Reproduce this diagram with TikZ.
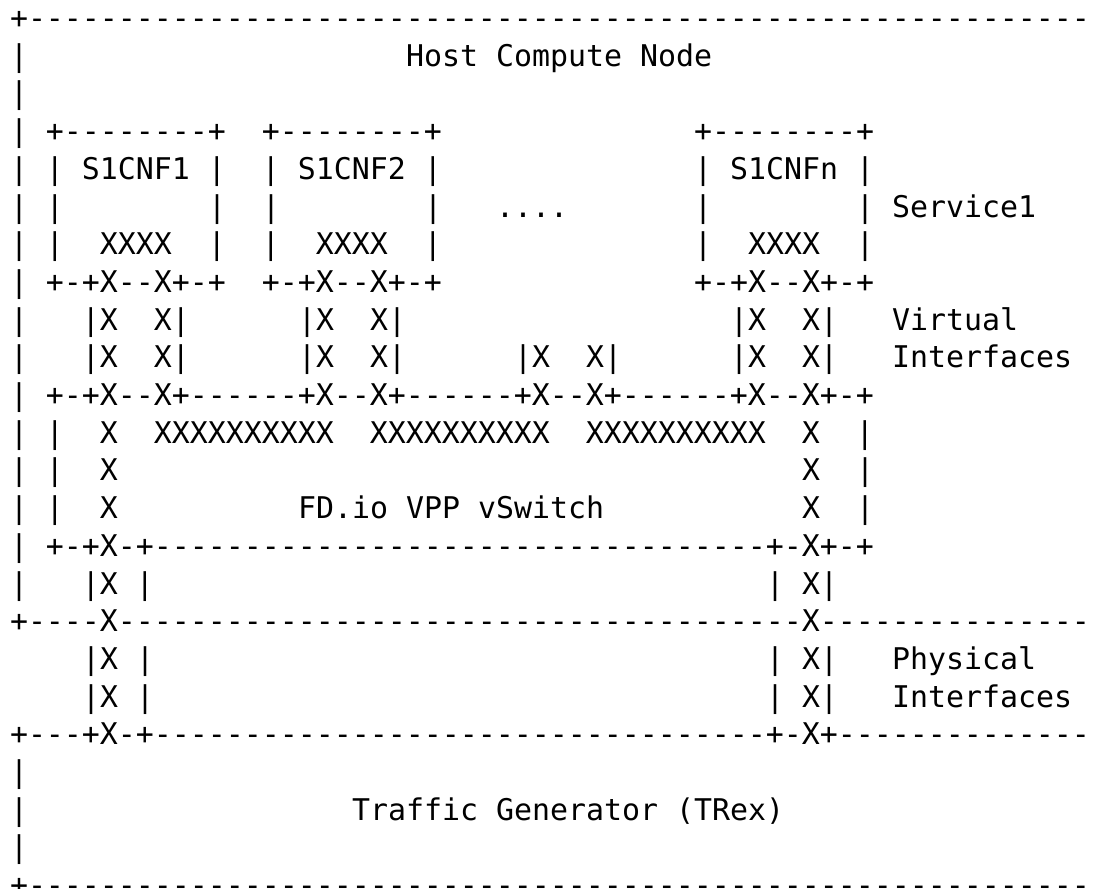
\documentclass[tikz,border=0pt]{standalone}
\usepackage{fontspec}
\setmonofont{DejaVu Sans Mono}
\ExplSyntaxOn
\cs_new:Npn \asrep #1#2 { \prg_replicate:nn {#1} {#2} }
\ExplSyntaxOff
\newcommand\SP[1]{\asrep{#1}{~}}
\newcommand\DS[1]{\asrep{#1}{-}}
\frenchspacing
\begin{document}
\begin{tikzpicture}[x=1pt,y=-1pt,
  asciirow/.style={anchor=base west,inner sep=0pt,outer sep=0pt,
    font=\ttfamily\fontsize{29.9}{36}\selectfont,text=black}]
\clip (0,0) rectangle (1096,889);
\fill[white] (0,0) rectangle (1096,889);
\def\by{28.5}\def\dy{37.7}
\node[asciirow] (r0)  at (10,{\by+0*\dy})  {+\DS{59}};
\node[asciirow] (r1)  at (10,{\by+1*\dy})  {|\SP{21}Host~Compute~Node};
\node[asciirow] (r2)  at (10,{\by+2*\dy})  {|};
\node[asciirow] (r3)  at (10,{\by+3*\dy})  {|~+\DS{8}+~~+\DS{8}+\SP{14}+\DS{8}+};
\node[asciirow] (r4)  at (10,{\by+4*\dy})  {|~|~S1CNF1~|~~|~S1CNF2~|\SP{14}|~S1CNFn~|};
\node[asciirow] (r5)  at (10,{\by+5*\dy})  {|~|\SP{8}|~~|\SP{8}|\SP{3}....\SP{7}|\SP{8}|~Service1};
\node[asciirow] (r6)  at (10,{\by+6*\dy})  {|~|~~XXXX~~|~~|~~XXXX~~|\SP{14}|~~XXXX~~|};
\node[asciirow] (r7)  at (10,{\by+7*\dy})  {|~+-+X-{}-X+-+~~+-+X-{}-X+-+\SP{14}+-+X-{}-X+-+};
\node[asciirow] (r8)  at (10,{\by+8*\dy})  {|\SP{3}|X~~X|\SP{6}|X~~X|\SP{18}|X~~X|\SP{3}Virtual};
\node[asciirow] (r9)  at (10,{\by+9*\dy})  {|\SP{3}|X~~X|\SP{6}|X~~X|\SP{6}|X~~X|\SP{6}|X~~X|\SP{3}Interfaces};
\node[asciirow] (r10) at (10,{\by+10*\dy}) {|~+-+X-{}-X+\DS{6}+X-{}-X+\DS{6}+X-{}-X+\DS{6}+X-{}-X+-+};
\node[asciirow] (r11) at (10,{\by+11*\dy}) {|~|~~X~~XXXXXXXXXX~~XXXXXXXXXX~~XXXXXXXXXX~~X~~|};
\node[asciirow] (r12) at (10,{\by+12*\dy}) {|~|~~X\SP{38}X~~|};
\node[asciirow] (r13) at (10,{\by+13*\dy}) {|~|~~X\SP{10}FD.io~VPP~vSwitch\SP{11}X~~|};
\node[asciirow] (r14) at (10,{\by+14*\dy}) {|~+-+X-+\DS{34}+-X+-+};
\node[asciirow] (r15) at (10,{\by+15*\dy}) {|\SP{3}|X~|\SP{34}|~X|};
\node[asciirow] (r16) at (10,{\by+16*\dy}) {+\DS{4}X\DS{38}X\DS{15}};
\node[asciirow] (r17) at (10,{\by+17*\dy}) {\SP{4}|X~|\SP{34}|~X|\SP{3}Physical};
\node[asciirow] (r18) at (10,{\by+18*\dy}) {\SP{4}|X~|\SP{34}|~X|\SP{3}Interfaces};
\node[asciirow] (r19) at (10,{\by+19*\dy}) {+\DS{3}+X-+\DS{34}+-X+\DS{14}};
\node[asciirow] (r20) at (10,{\by+20*\dy}) {|};
\node[asciirow] (r21) at (10,{\by+21*\dy}) {|\SP{18}Traffic~Generator~(TRex)};
\node[asciirow] (r22) at (10,{\by+22*\dy}) {|};
\node[asciirow] (r23) at (10,{\by+23*\dy}) {+\DS{59}};
\end{tikzpicture}
\end{document}
